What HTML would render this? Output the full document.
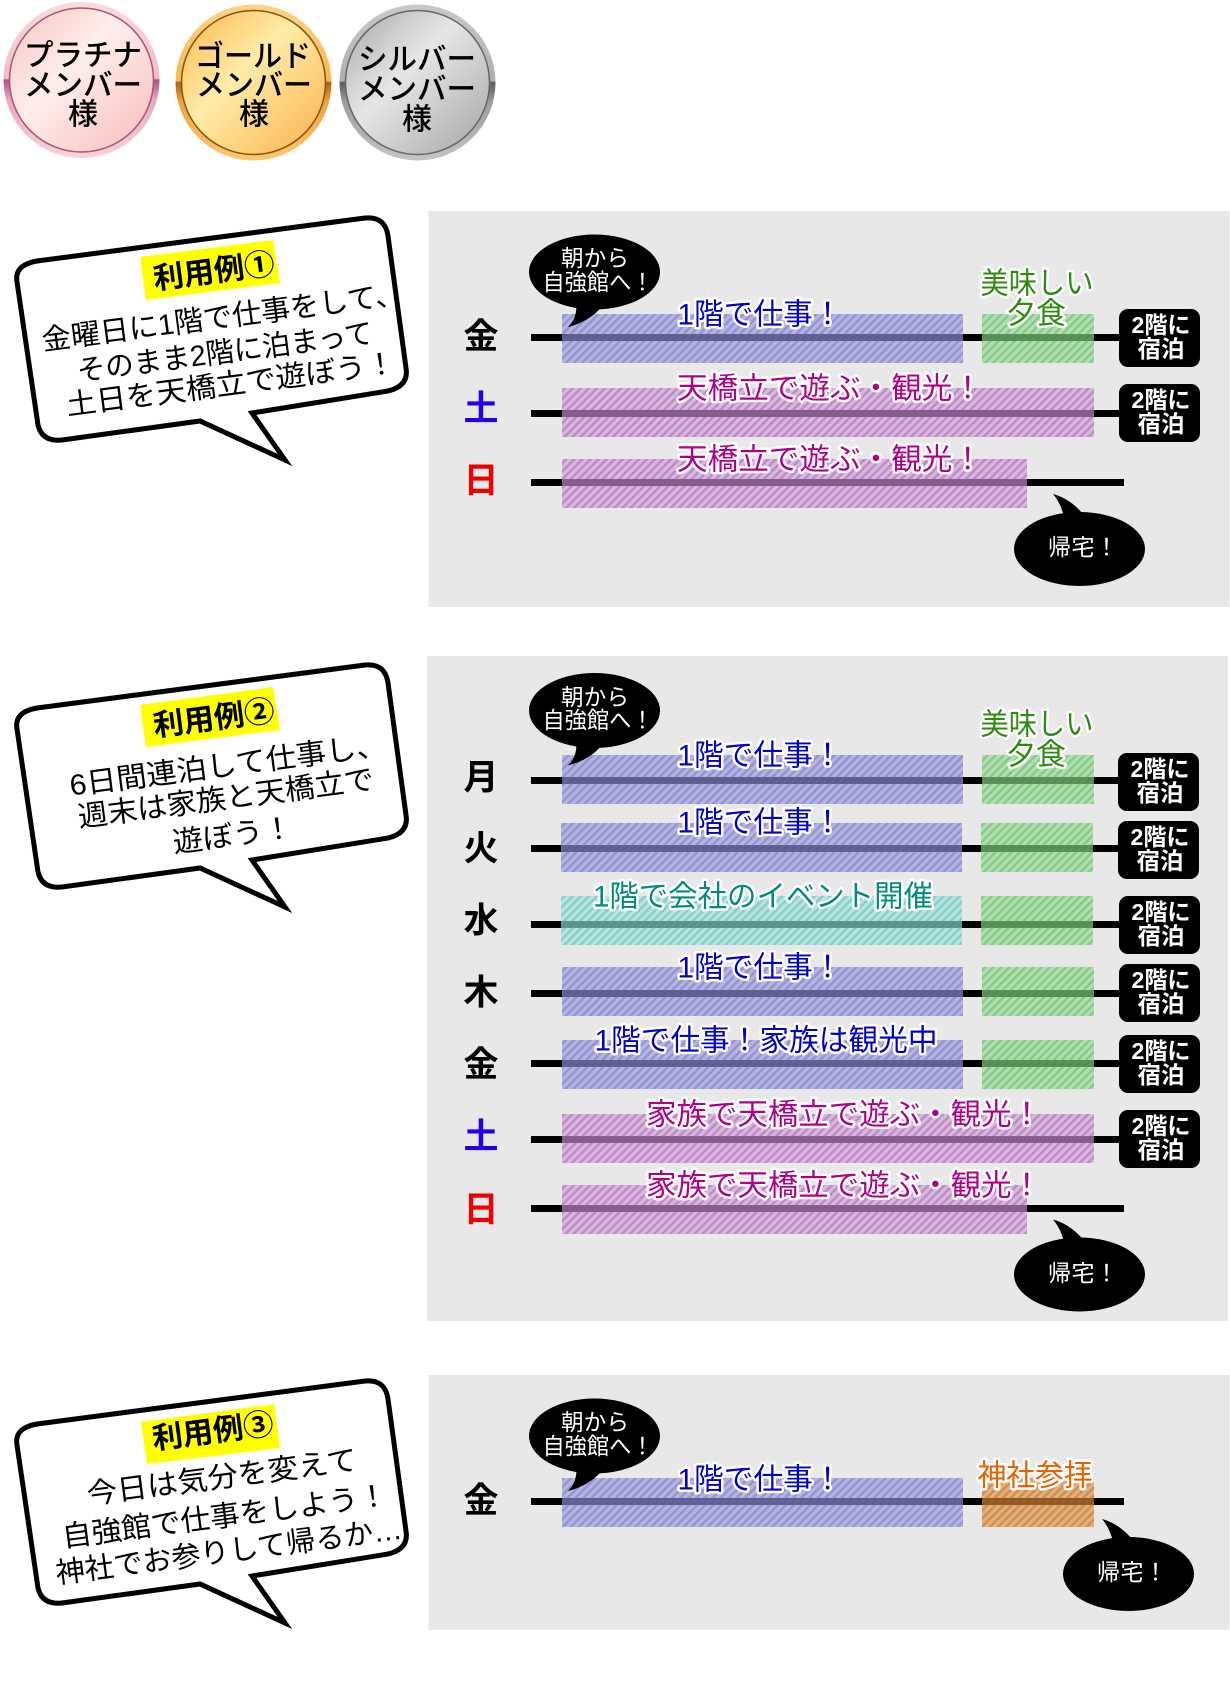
<!DOCTYPE html>
<html lang="ja"><head><meta charset="utf-8"><title>利用例</title>
<style>
html,body{margin:0;padding:0;background:#fff}
svg{display:block}
text{font-family:"Liberation Sans","Noto Sans CJK JP",sans-serif;text-anchor:middle;dominant-baseline:central}
.m{font-size:30px;font-weight:500;fill:#000}
.b{font-size:29px;font-weight:400;fill:#000}
.h{font-size:30px;font-weight:700;fill:#000}
.d{font-size:35px;font-weight:700}
.w{font-size:23px;fill:#fff;font-weight:400}
.k{font-size:23.5px;fill:#fff;font-weight:700}
.l{font-size:30px;font-weight:400;stroke:#fff;stroke-width:5px;stroke-linejoin:round;paint-order:stroke fill}
.cb{fill:#0000cc}.cp{fill:#b0008a}.cg{fill:#2e8b10}.ct{fill:#008b7a}.co{fill:#e86000}
.bub{fill:#fff;stroke:#000;stroke-width:5;stroke-miterlimit:12;stroke-linejoin:miter}
</style></head><body>
<svg width="1230" height="1700" viewBox="0 0 1230 1700" xmlns="http://www.w3.org/2000/svg">
<defs>
<linearGradient id="r1" x1="0" y1="0" x2="0" y2="1"><stop offset="0" stop-color="#f8dcdc"/><stop offset=".49" stop-color="#f3bcc4"/><stop offset=".5" stop-color="#a8557f"/><stop offset=".62" stop-color="#e6a8bc"/><stop offset="1" stop-color="#f8d4d8"/></linearGradient>
<linearGradient id="i1" x1="0" y1="0" x2="1" y2="1"><stop offset="0" stop-color="#f8c4c4"/><stop offset=".42" stop-color="#fdeeea"/><stop offset="1" stop-color="#f8bcbc"/></linearGradient>
<linearGradient id="r2" x1="0" y1="0" x2="0" y2="1"><stop offset="0" stop-color="#fbd488"/><stop offset=".49" stop-color="#f8b850"/><stop offset=".5" stop-color="#a86418"/><stop offset=".62" stop-color="#eca440"/><stop offset="1" stop-color="#fcc870"/></linearGradient>
<linearGradient id="i2" x1="0" y1="0" x2="1" y2="1"><stop offset="0" stop-color="#fbb64c"/><stop offset=".42" stop-color="#ffeca8"/><stop offset="1" stop-color="#fbb048"/></linearGradient>
<linearGradient id="r3" x1="0" y1="0" x2="0" y2="1"><stop offset="0" stop-color="#c8c8c8"/><stop offset=".49" stop-color="#b0b0b0"/><stop offset=".5" stop-color="#5c5c5c"/><stop offset=".62" stop-color="#9c9c9c"/><stop offset="1" stop-color="#c4c4c4"/></linearGradient>
<linearGradient id="i3" x1="0" y1="0" x2="1" y2="1"><stop offset="0" stop-color="#a8a8a8"/><stop offset=".42" stop-color="#e6e6e6"/><stop offset="1" stop-color="#a4a4a4"/></linearGradient>
<pattern id="pb" width="5.7" height="6" patternUnits="userSpaceOnUse" patternTransform="rotate(45)"><rect width="5.7" height="6" fill="#9595e5" fill-opacity=".63"/><rect width="2.5" height="6" fill="#6969a7" fill-opacity=".4"/></pattern>
<pattern id="pp" width="5.7" height="6" patternUnits="userSpaceOnUse" patternTransform="rotate(45)"><rect width="5.7" height="6" fill="#d895e1" fill-opacity=".63"/><rect width="2.5" height="6" fill="#825a8c" fill-opacity=".4"/></pattern>
<pattern id="pg" width="5.7" height="6" patternUnits="userSpaceOnUse" patternTransform="rotate(45)"><rect width="5.7" height="6" fill="#8ddc8d" fill-opacity=".63"/><rect width="2.5" height="6" fill="#57a257" fill-opacity=".4"/></pattern>
<pattern id="pt" width="5.7" height="6" patternUnits="userSpaceOnUse" patternTransform="rotate(45)"><rect width="5.7" height="6" fill="#95e5de" fill-opacity=".63"/><rect width="2.5" height="6" fill="#5aa5a0" fill-opacity=".4"/></pattern>
<pattern id="po" width="5.7" height="6" patternUnits="userSpaceOnUse" patternTransform="rotate(45)"><rect width="5.7" height="6" fill="#e18d36" fill-opacity=".63"/><rect width="2.5" height="6" fill="#aa6428" fill-opacity=".4"/></pattern>
</defs>

<!-- medals -->
<circle cx="81.5" cy="80" r="78" fill="url(#r1)"/><circle cx="81.5" cy="80" r="72" fill="url(#i1)" stroke="#a8557f" stroke-width="1.5"/>
<circle cx="253.5" cy="82.5" r="78" fill="url(#r2)"/><circle cx="253.5" cy="82.5" r="72" fill="url(#i2)" stroke="#8a5010" stroke-width="1.5"/>
<circle cx="417.5" cy="82.5" r="78" fill="url(#r3)"/><circle cx="417.5" cy="82.5" r="72" fill="url(#i3)" stroke="#666" stroke-width="1.5"/>
<text class="m" x="83" y="56" textLength="118" lengthAdjust="spacingAndGlyphs">プラチナ</text>
<text class="m" x="83" y="86" textLength="118" lengthAdjust="spacingAndGlyphs">メンバー</text>
<text class="m" x="83" y="115">様</text>
<text class="m" x="253" y="57" textLength="116" lengthAdjust="spacingAndGlyphs">ゴールド</text>
<text class="m" x="254" y="86" textLength="116" lengthAdjust="spacingAndGlyphs">メンバー</text>
<text class="m" x="254" y="115">様</text>
<text class="m" x="417" y="60" textLength="118" lengthAdjust="spacingAndGlyphs">シルバー</text>
<text class="m" x="417" y="90" textLength="118" lengthAdjust="spacingAndGlyphs">メンバー</text>
<text class="m" x="417" y="120">様</text>

<!-- speech bubbles -->
<path class="bub" d="M17,282 Q14,265 37,261 L365,218 Q385,216 388,236 L406,368 Q409,386 388,391 L252,413 L285,460 L200,421 L62,440 Q42,442 38,425 Z"/>
<polygon points="140,257 273,240 280,283 146,300" fill="#ffff00"/>
<g transform="rotate(-7.4 214 272)"><text class="h" x="214" y="272" textLength="122" lengthAdjust="spacingAndGlyphs">利用例①</text></g>
<g transform="rotate(-7.4 223 318)"><text class="b" x="223" y="318" textLength="365" lengthAdjust="spacingAndGlyphs">金曜日に1階で仕事をして、</text></g>
<g transform="rotate(-7.4 225 353)"><text class="b" x="225" y="353" textLength="298" lengthAdjust="spacingAndGlyphs">そのまま2階に泊まって</text></g>
<g transform="rotate(-7.4 231 385)"><text class="b" x="231" y="385" textLength="332" lengthAdjust="spacingAndGlyphs">土日を天橋立で遊ぼう！</text></g>

<path class="bub" transform="translate(0,447)" d="M17,282 Q14,265 37,261 L365,218 Q385,216 388,236 L406,368 Q409,386 388,391 L252,413 L285,460 L200,421 L62,440 Q42,442 38,425 Z"/>
<polygon points="140,705 273,687 280,730 146,747" fill="#ffff00"/>
<g transform="rotate(-7.4 214 719)"><text class="h" x="214" y="719" textLength="122" lengthAdjust="spacingAndGlyphs">利用例②</text></g>
<g transform="rotate(-7.4 228 766)"><text class="b" x="228" y="766" textLength="319" lengthAdjust="spacingAndGlyphs">6日間連泊して仕事し、</text></g>
<g transform="rotate(-7.4 226 799)"><text class="b" x="226" y="799" textLength="298" lengthAdjust="spacingAndGlyphs">週末は家族と天橋立で</text></g>
<g transform="rotate(-7.4 233 836)"><text class="b" x="233" y="836" textLength="121" lengthAdjust="spacingAndGlyphs">遊ぼう！</text></g>

<path class="bub" transform="translate(0,1163)" d="M17,282 Q14,265 37,261 L365,218 Q385,216 388,236 L406,368 Q409,386 388,391 L252,413 L285,460 L200,421 L62,440 Q42,442 38,425 Z"/>
<polygon points="141,1422 274,1404 280,1448 147,1464" fill="#ffff00"/>
<g transform="rotate(-7.4 213 1432)"><text class="h" x="213" y="1432" textLength="122" lengthAdjust="spacingAndGlyphs">利用例③</text></g>
<g transform="rotate(-7.4 222 1478)"><text class="b" x="222" y="1478" textLength="272" lengthAdjust="spacingAndGlyphs">今日は気分を変えて</text></g>
<g transform="rotate(-7.4 225 1517)"><text class="b" x="225" y="1517" textLength="328" lengthAdjust="spacingAndGlyphs">自強館で仕事をしよう！</text></g>
<g transform="rotate(-7.4 229 1552)"><text class="b" x="229" y="1552" textLength="349" lengthAdjust="spacingAndGlyphs">神社でお参りして帰るか…</text></g>

<!-- panels -->
<rect x="428.5" y="211" width="801" height="396" fill="#e8e8e8"/>
<rect x="427" y="656" width="801" height="665" fill="#e8e8e8"/>
<rect x="428.5" y="1375" width="801" height="255" fill="#e8e8e8"/>

<!-- panel 1 -->
<rect x="531" y="334" width="590" height="7"/>
<rect x="531" y="410" width="590" height="7"/>
<rect x="531" y="479" width="593" height="7"/>
<rect x="562" y="314" width="401" height="49" fill="url(#pb)"/>
<rect x="982" y="314" width="112" height="49" fill="url(#pg)"/>
<rect x="562" y="388" width="532" height="49" fill="url(#pp)"/>
<rect x="562" y="459" width="465" height="49" fill="url(#pp)"/>
<rect x="1119" y="309" width="81" height="58" rx="9"/>
<rect x="1119" y="384" width="81" height="58" rx="9"/>
<text class="k" x="1161" y="325" textLength="59" lengthAdjust="spacingAndGlyphs">2階に</text><text class="k" x="1161" y="349">宿泊</text>
<text class="k" x="1161" y="400" textLength="59" lengthAdjust="spacingAndGlyphs">2階に</text><text class="k" x="1161" y="424">宿泊</text>
<text class="d" x="481" y="337">金</text><text class="d" x="481" y="409" style="fill:#2200ee">土</text><text class="d" x="481" y="481" style="fill:#ee0000">日</text>
<text class="l cb" x="760" y="315" textLength="165" lengthAdjust="spacingAndGlyphs">1階で仕事！</text>
<text class="l cg" x="1037" y="284" textLength="113" lengthAdjust="spacingAndGlyphs">美味しい</text>
<text class="l cg" x="1036" y="314" textLength="60" lengthAdjust="spacingAndGlyphs">夕食</text>
<text class="l cp" x="830" y="389" textLength="306" lengthAdjust="spacingAndGlyphs">天橋立で遊ぶ・観光！</text>
<text class="l cp" x="830" y="460" textLength="306" lengthAdjust="spacingAndGlyphs">天橋立で遊ぶ・観光！</text>
<g transform="translate(594.5,272)"><ellipse rx="65.5" ry="37.5"/><path d="M-18,33 Q-18,48 -27,55 Q-5,50 9,33 Z"/></g>
<text class="w" x="595" y="258" textLength="68" lengthAdjust="spacingAndGlyphs">朝から</text><text class="w" x="598" y="282" textLength="111" lengthAdjust="spacingAndGlyphs">自強館へ！</text>
<g transform="translate(1079.5,549)"><ellipse rx="65.5" ry="37"/><path d="M-15,-30 Q-18,-45 -26.5,-55 Q-8,-50 6,-32 Z"/></g>
<text class="w" x="1083" y="547" textLength="70" lengthAdjust="spacing">帰宅！</text>

<!-- panel 2 -->
<rect x="531" y="777" width="590" height="7"/>
<rect x="531" y="845" width="590" height="7"/>
<rect x="531" y="921" width="590" height="7"/>
<rect x="531" y="990" width="590" height="7"/>
<rect x="531" y="1060" width="590" height="7"/>
<rect x="531" y="1136" width="590" height="7"/>
<rect x="531" y="1205" width="593" height="7"/>
<rect x="562" y="755" width="401" height="49" fill="url(#pb)"/><rect x="982" y="755" width="112" height="49" fill="url(#pg)"/>
<rect x="561" y="823" width="401" height="49" fill="url(#pb)"/><rect x="981" y="823" width="112" height="49" fill="url(#pg)"/>
<rect x="561" y="896" width="401" height="49" fill="url(#pt)"/><rect x="981" y="896" width="112" height="49" fill="url(#pg)"/>
<rect x="562" y="967" width="401" height="49" fill="url(#pb)"/><rect x="982" y="967" width="112" height="49" fill="url(#pg)"/>
<rect x="562" y="1040" width="401" height="49" fill="url(#pb)"/><rect x="982" y="1040" width="112" height="49" fill="url(#pg)"/>
<rect x="562" y="1114" width="532" height="49" fill="url(#pp)"/>
<rect x="562" y="1185" width="465" height="49" fill="url(#pp)"/>
<rect x="1118" y="753" width="81" height="58" rx="9"/>
<rect x="1118" y="821" width="81" height="58" rx="9"/>
<rect x="1119" y="896" width="81" height="58" rx="9"/>
<rect x="1119" y="964" width="81" height="58" rx="9"/>
<rect x="1119" y="1035" width="81" height="58" rx="9"/>
<rect x="1119" y="1110" width="81" height="58" rx="9"/>
<text class="k" x="1160" y="769" textLength="59" lengthAdjust="spacingAndGlyphs">2階に</text><text class="k" x="1160" y="793">宿泊</text>
<text class="k" x="1160" y="837" textLength="59" lengthAdjust="spacingAndGlyphs">2階に</text><text class="k" x="1160" y="861">宿泊</text>
<text class="k" x="1161" y="912" textLength="59" lengthAdjust="spacingAndGlyphs">2階に</text><text class="k" x="1161" y="936">宿泊</text>
<text class="k" x="1161" y="980" textLength="59" lengthAdjust="spacingAndGlyphs">2階に</text><text class="k" x="1161" y="1004">宿泊</text>
<text class="k" x="1161" y="1051" textLength="59" lengthAdjust="spacingAndGlyphs">2階に</text><text class="k" x="1161" y="1075">宿泊</text>
<text class="k" x="1161" y="1126" textLength="59" lengthAdjust="spacingAndGlyphs">2階に</text><text class="k" x="1161" y="1150">宿泊</text>
<text class="d" x="481" y="778">月</text><text class="d" x="481" y="849">火</text><text class="d" x="481" y="921">水</text><text class="d" x="481" y="993">木</text><text class="d" x="481" y="1065">金</text><text class="d" x="481" y="1137" style="fill:#2200ee">土</text><text class="d" x="481" y="1210" style="fill:#ee0000">日</text>
<text class="l cb" x="760" y="756" textLength="165" lengthAdjust="spacingAndGlyphs">1階で仕事！</text>
<text class="l cg" x="1037" y="725" textLength="113" lengthAdjust="spacingAndGlyphs">美味しい</text>
<text class="l cg" x="1036" y="755" textLength="60" lengthAdjust="spacingAndGlyphs">夕食</text>
<text class="l cb" x="760" y="823" textLength="165" lengthAdjust="spacingAndGlyphs">1階で仕事！</text>
<text class="l ct" x="763" y="897" textLength="340" lengthAdjust="spacingAndGlyphs">1階で会社のイベント開催</text>
<text class="l cb" x="760" y="968" textLength="165" lengthAdjust="spacingAndGlyphs">1階で仕事！</text>
<text class="l cb" x="766" y="1041" textLength="343" lengthAdjust="spacingAndGlyphs">1階で仕事！家族は観光中</text>
<text class="l cp" x="844" y="1115" textLength="396" lengthAdjust="spacingAndGlyphs">家族で天橋立で遊ぶ・観光！</text>
<text class="l cp" x="844" y="1186" textLength="396" lengthAdjust="spacingAndGlyphs">家族で天橋立で遊ぶ・観光！</text>
<g transform="translate(594.5,710.5)"><ellipse rx="65.5" ry="37.5"/><path d="M-18,33 Q-18,48 -27,55 Q-5,50 9,33 Z"/></g>
<text class="w" x="595" y="697" textLength="68" lengthAdjust="spacingAndGlyphs">朝から</text><text class="w" x="598" y="720" textLength="111" lengthAdjust="spacingAndGlyphs">自強館へ！</text>
<g transform="translate(1079.5,1274.5)"><ellipse rx="65.5" ry="37"/><path d="M-15,-30 Q-18,-45 -26.5,-55 Q-8,-50 6,-32 Z"/></g>
<text class="w" x="1083" y="1273" textLength="70" lengthAdjust="spacing">帰宅！</text>

<!-- panel 3 -->
<rect x="531" y="1498" width="593" height="7"/>
<rect x="562" y="1478" width="401" height="49" fill="url(#pb)"/>
<rect x="982" y="1478" width="112" height="49" fill="url(#po)"/>
<text class="d" x="481" y="1501">金</text>
<text class="l cb" x="760" y="1480" textLength="165" lengthAdjust="spacingAndGlyphs">1階で仕事！</text>
<text class="l co" x="1035" y="1476" textLength="115" lengthAdjust="spacingAndGlyphs">神社参拝</text>
<g transform="translate(594.5,1436)"><ellipse rx="65.5" ry="37.5"/><path d="M-18,33 Q-18,48 -27,55 Q-5,50 9,33 Z"/></g>
<text class="w" x="595" y="1422" textLength="68" lengthAdjust="spacingAndGlyphs">朝から</text><text class="w" x="598" y="1446" textLength="111" lengthAdjust="spacingAndGlyphs">自強館へ！</text>
<g transform="translate(1128.5,1574)"><ellipse rx="65.5" ry="37"/><path d="M-15,-30 Q-18,-45 -26.5,-55 Q-8,-50 6,-32 Z"/></g>
<text class="w" x="1132" y="1572" textLength="70" lengthAdjust="spacing">帰宅！</text>
</svg>
</body></html>
